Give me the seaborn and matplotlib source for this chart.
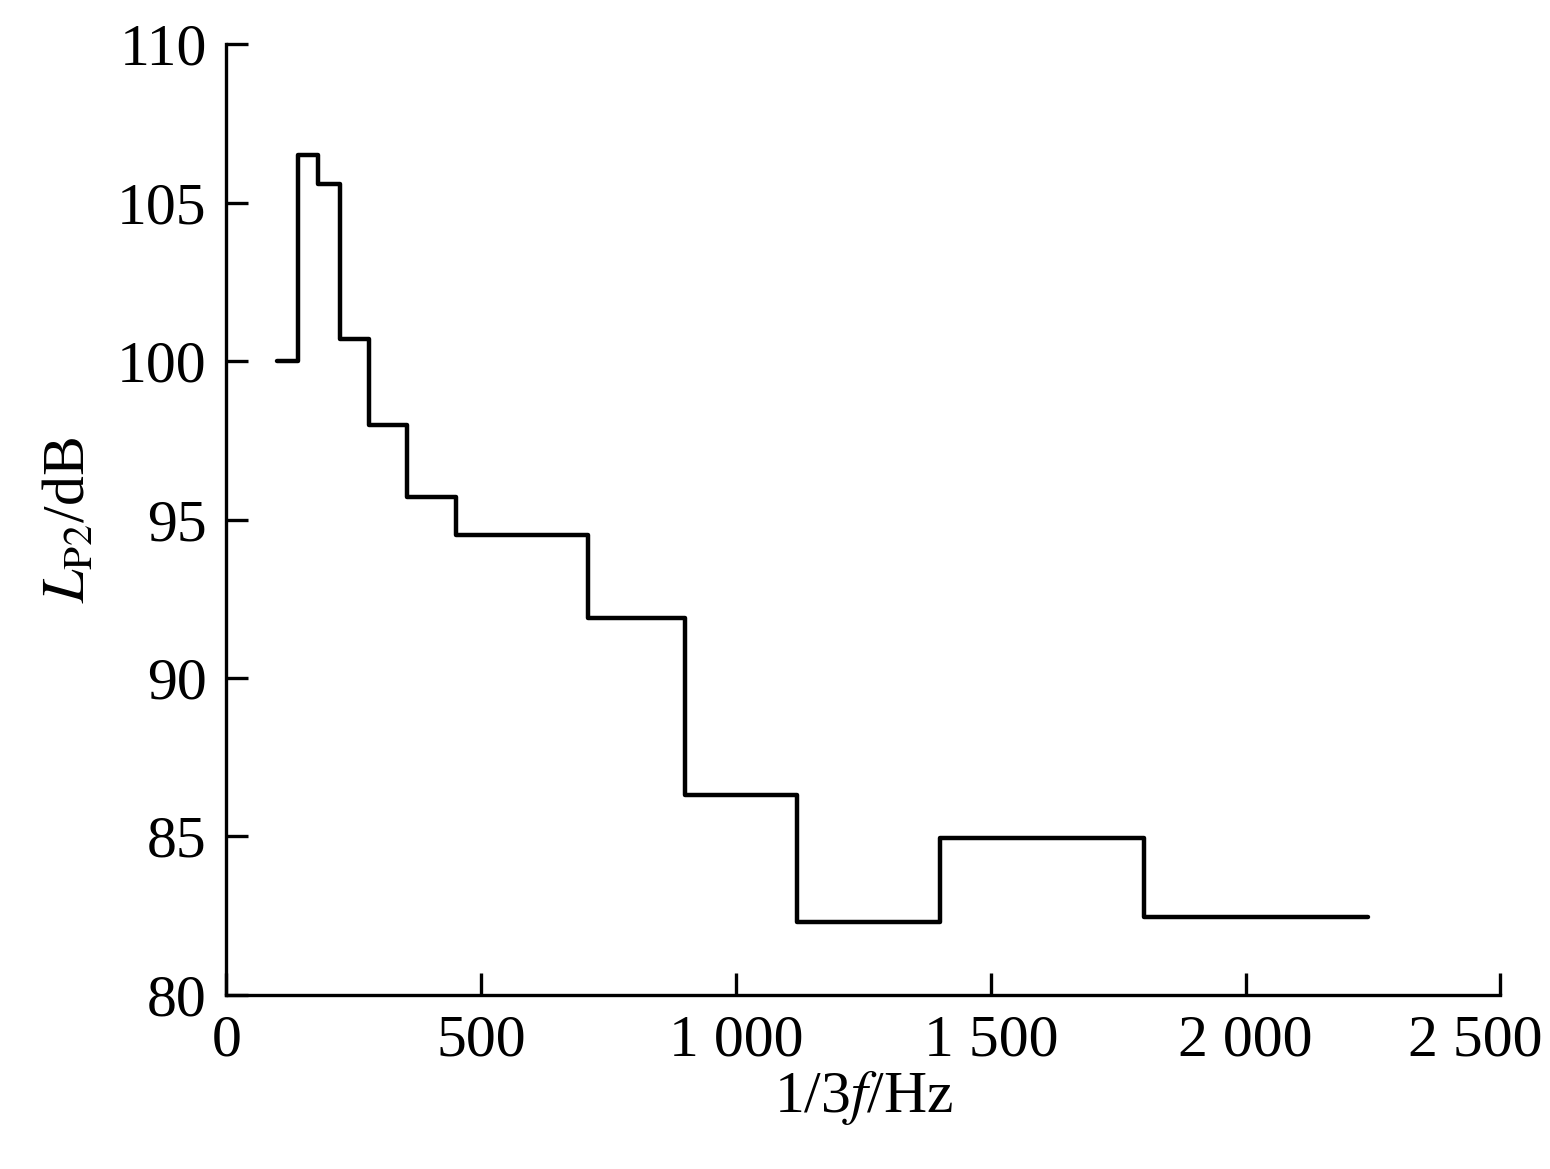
import matplotlib
matplotlib.use("Agg")
import matplotlib.pyplot as plt
import matplotlib.transforms as mtransforms
import seaborn as sns
import pandas as pd

edges = [100, 140, 180, 224, 280, 355, 450, 710, 900, 1120, 1400, 1800, 2240]
levels = [100.0, 106.5, 105.6, 100.7, 98.0, 95.7, 94.5, 91.9, 86.3, 82.3, 84.95, 82.45]
xticks = [0, 500, 1000, 1500, 2000, 2500]
xticklabels = ["0", "500", "1 000", "1 500", "2 000", "2 500"]
yticks = [80, 85, 90, 95, 100, 105, 110]

sns.set_style("white")
plt.rcParams['font.family'] = ['Liberation Serif', 'DejaVu Serif']
plt.rcParams['mathtext.fontset'] = 'stix'

df = pd.DataFrame({"f": edges, "L": levels + [levels[-1]]})
fig = plt.figure(figsize=(15.5, 11.69), dpi=100)
ax = fig.add_axes([0.146, 0.149, 0.822, 0.813])
sns.lineplot(data=df, x="f", y="L", drawstyle="steps-post", color="black", linewidth=3.2, ax=ax)
ax.set_xlim(0, 2500)
ax.set_ylim(80, 110)
ax.set_xticks(xticks)
ax.set_xticklabels(xticklabels)
ax.set_yticks(yticks)
for s in ["top", "right"]:
    ax.spines[s].set_visible(False)
for s in ["left", "bottom"]:
    ax.spines[s].set_linewidth(2.4)
    ax.spines[s].set_color("black")
ax.tick_params(direction="in", length=16, width=2.4, labelsize=43, pad=14, colors="black",
               bottom=True, left=True)
last = ax.get_xticklabels()[-1]
last.set_transform(last.get_transform() + mtransforms.ScaledTranslation(-0.25, 0, fig.dpi_scale_trans))
ax.set_xlabel("1/3$f$/Hz", fontsize=43, labelpad=0, color="black")
ax.set_ylabel("$L_{\\mathrm{P2}}$/dB", fontsize=43, labelpad=14, color="black")
fig.savefig("out.png", dpi=100)
